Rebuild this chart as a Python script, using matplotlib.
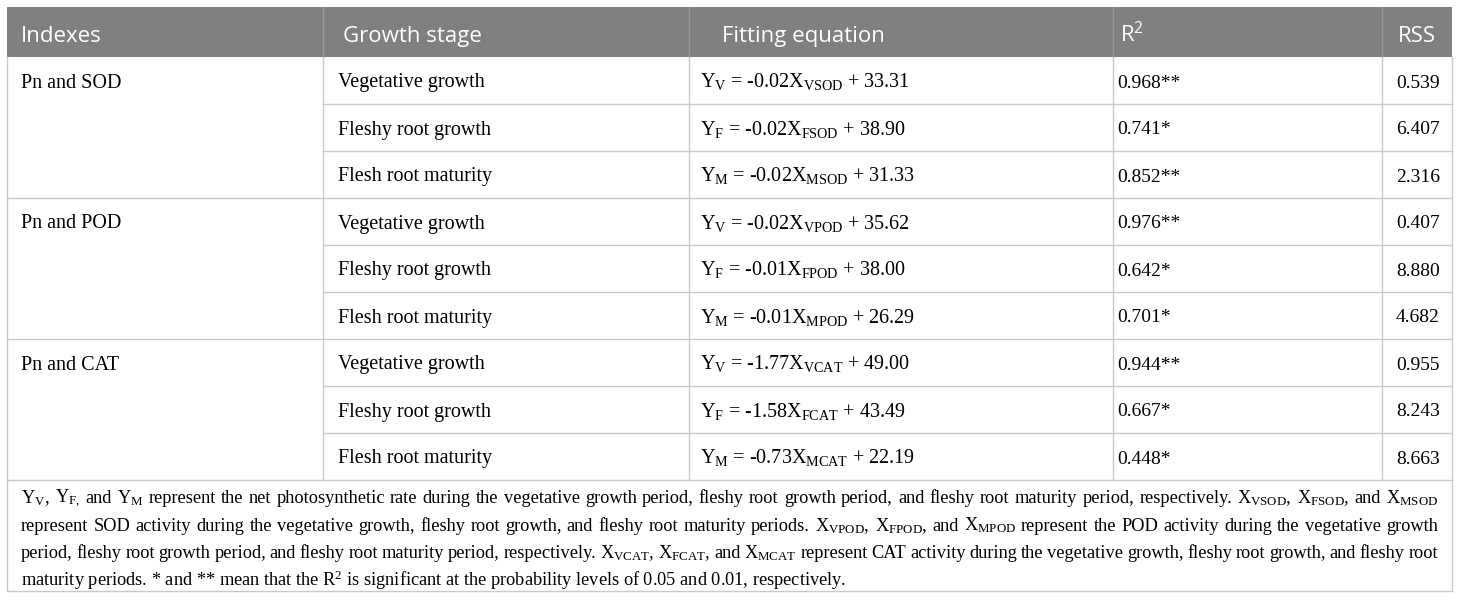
import matplotlib
matplotlib.use("Agg")
import matplotlib.pyplot as plt
from matplotlib.patches import Rectangle

plt.rcParams["mathtext.fontset"] = "custom"
plt.rcParams["mathtext.rm"] = "Liberation Serif"

# table content
headers = ["Indexes", "Growth stage", "Fitting equation", r"R$\mathregular{^2}$", "RSS"]
indexes = ["Pn and SOD", "Pn and POD", "Pn and CAT"]
enzymes = ["SOD", "POD", "CAT"]
stages = ["Vegetative growth", "Fleshy root growth", "Flesh root maturity"]
stage_keys = ["V", "F", "M"]
slopes = [[-0.02, -0.02, -0.02], [-0.02, -0.01, -0.01], [-1.77, -1.58, -0.73]]
intercepts = [[33.31, 38.90, 31.33], [35.62, 38.00, 26.29], [49.00, 43.49, 22.19]]
r2 = [[0.968, 0.741, 0.852], [0.976, 0.642, 0.701], [0.944, 0.667, 0.448]]
sig = [["**", "*", "**"], ["**", "*", "*"], ["**", "*", "*"]]
rss = [[0.539, 6.407, 2.316], [0.407, 8.880, 4.682], [0.955, 8.243, 8.663]]

note_lines = [
    r"$\mathregular{Y_V}$, $\mathregular{Y_{F,}}$ and $\mathregular{Y_M}$ represent the net photosynthetic rate during the vegetative growth period, fleshy root growth period, and fleshy root maturity period, respectively. $\mathregular{X_{VSOD}}$, $\mathregular{X_{FSOD}}$, and $\mathregular{X_{MSOD}}$",
    r"represent SOD activity during the vegetative growth, fleshy root growth, and fleshy root maturity periods. $\mathregular{X_{VPOD}}$, $\mathregular{X_{FPOD}}$, and $\mathregular{X_{MPOD}}$ represent the POD activity during the vegetative growth",
    r"period, fleshy root growth period, and fleshy root maturity period, respectively. $\mathregular{X_{VCAT}}$, $\mathregular{X_{FCAT}}$, and $\mathregular{X_{MCAT}}$ represent CAT activity during the vegetative growth, fleshy root growth, and fleshy root",
    r"maturity periods. * and ** mean that the R$\mathregular{^2}$ is significant at the probability levels of 0.05 and 0.01, respectively.",
]

W, H = 1460, 601
fig = plt.figure(figsize=(W / 100, H / 100), dpi=100)
ax = fig.add_axes([0, 0, 1, 1])
ax.set_xlim(0, W)
ax.set_ylim(H, 0)
ax.axis("off")

col_edges = [7, 323, 689, 1113, 1382, 1452]
head_top, head_bot = 7, 57
row_h = 47
table_bot = head_bot + 9 * row_h
note_bot = 591
line_col = "#c9c9c9"
head_col = "#808080"
serif = "Liberation Serif"
sans = "Open Sans"

# header
ax.add_patch(Rectangle((col_edges[0], head_top), col_edges[-1] - col_edges[0],
                       head_bot - head_top, color=head_col, lw=0))
for x in col_edges[1:-1]:
    ax.plot([x, x], [head_top, head_bot], color="#9a9a9a", lw=1)
head_x = [21, 343, 722, 1120, 1398]
for x, t in zip(head_x, headers):
    ax.text(x, 42, t, color="white", fontsize=16, family=sans, va="baseline")

# body text
txt_x = [21, 338, 700, 1117, 1396]
for g in range(3):
    y0 = head_bot + g * 3 * row_h
    ax.text(txt_x[0], y0 + row_h / 2 + 7, indexes[g], family=serif,
            fontsize=14.5, va="baseline")
    for k in range(3):
        yb = y0 + k * row_h + row_h / 2 + 7
        s = stage_keys[k]
        eq = (r"$\mathregular{Y_%s}$ = %.2f$\mathregular{X_{%s%s}}$ + %.2f"
              % (s, slopes[g][k], s, enzymes[g], intercepts[g][k]))
        ax.text(txt_x[1], yb, stages[k], family=serif, fontsize=14.5, va="baseline")
        ax.text(txt_x[2], yb, eq, family=serif, fontsize=14.5, va="baseline")
        ax.text(txt_x[3], yb, f"{r2[g][k]:.3f}{sig[g][k]}", family=serif,
                fontsize=14, va="baseline")
        ax.text(txt_x[4], yb, f"{rss[g][k]:.3f}", family=serif,
                fontsize=14, va="baseline")

# grid lines
for i in range(1, 10):
    y = head_bot + i * row_h
    x0 = col_edges[0] if i % 3 == 0 else col_edges[1]
    ax.plot([x0, col_edges[-1]], [y, y], color=line_col, lw=1)
for x in col_edges[1:-1]:
    ax.plot([x, x], [head_bot, table_bot], color=line_col, lw=1)
ax.plot([col_edges[0], col_edges[0]], [head_bot, note_bot], color=line_col, lw=1)
ax.plot([col_edges[-1], col_edges[-1]], [head_bot, note_bot], color=line_col, lw=1)
ax.plot([col_edges[0], col_edges[-1]], [note_bot, note_bot], color=line_col, lw=1)

# footnote, justified lines
left, right = 21, 1438
base_y = [503, 530.7, 558.3, 586]
fig.canvas.draw()
rend = fig.canvas.get_renderer()
for i, line in enumerate(note_lines):
    if i == len(note_lines) - 1:
        ax.text(left, base_y[i], line, family=serif, fontsize=13.2, va="baseline")
        continue
    words = line.split(" ")
    arts = [ax.text(0, base_y[i], w, family=serif, fontsize=13.2, va="baseline")
            for w in words]
    widths = [a.get_window_extent(rend).width for a in arts]
    gap = (right - left - sum(widths)) / (len(words) - 1)
    x = left
    for a, w in zip(arts, widths):
        a.set_x(x)
        x += w + gap

fig.savefig("out.png", dpi=100, facecolor="white")
